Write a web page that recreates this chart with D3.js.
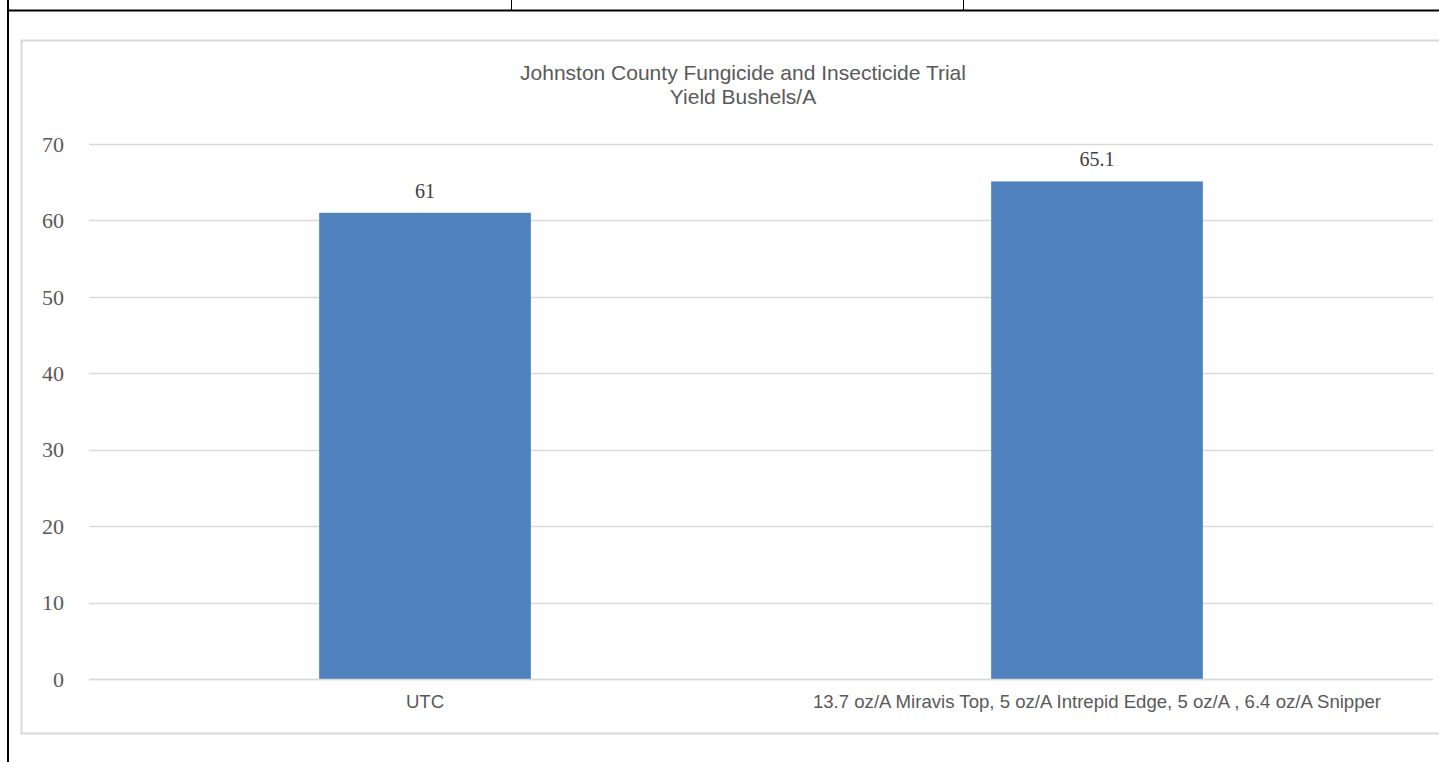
<!DOCTYPE html>
<html><head><meta charset="utf-8">
<script src="https://cdn.jsdelivr.net/npm/d3@7"></script>
<style>html,body{margin:0;padding:0;background:#fff;overflow:hidden}</style>
</head><body>
<svg id="c" width="1439" height="762"></svg>
<script>
const categories = ["UTC", "13.7 oz/A Miravis Top, 5 oz/A Intrepid Edge, 5 oz/A , 6.4 oz/A Snipper"];
const values = [61, 65.1];
const valueLabels = ["61", "65.1"];
const yTicks = [0, 10, 20, 30, 40, 50, 60, 70];
const titleLines = ["Johnston County Fungicide and Insecticide Trial", "Yield Bushels/A"];

(function () {
const svg = d3.select("#c");

// page table borders
svg.append("line").attr("x1", 8).attr("x2", 8).attr("y1", 0).attr("y2", 762).attr("stroke", "#000").attr("stroke-width", 2);
svg.append("line").attr("x1", 8).attr("x2", 1439).attr("y1", 10.5).attr("y2", 10.5).attr("stroke", "#000").attr("stroke-width", 2);
[511.5, 963.5].forEach(x => svg.append("line").attr("x1", x).attr("x2", x).attr("y1", 0).attr("y2", 10).attr("stroke", "#000").attr("stroke-width", 1));

// chart frame
svg.append("rect").attr("x", 21.5).attr("y", 40.5).attr("width", 1440).attr("height", 693)
  .attr("fill", "none").attr("stroke", "#d9d9d9").attr("stroke-width", 2);

const mLeft = 89, mRight = 1433, mTop = 144, mBottom = 679;
const x = d3.scaleBand().domain(categories).range([mLeft, mRight]).padding(0);
const y = d3.scaleLinear().domain([0, 70]).range([mBottom, mTop]);

// gridlines
svg.append("g").selectAll("line").data(yTicks).join("line")
  .attr("x1", mLeft).attr("x2", mRight)
  .attr("y1", d => Math.round(y(d)) + 0.5).attr("y2", d => Math.round(y(d)) + 0.5)
  .attr("stroke", "#d9d9d9").attr("stroke-width", 1.4);

// y tick labels
svg.append("g").selectAll("text").data(yTicks).join("text")
  .attr("x", 64).attr("y", d => y(d)).attr("dy", "0.35em")
  .attr("text-anchor", "end")
  .attr("font-family", "'Liberation Serif', 'Times New Roman', serif")
  .attr("font-size", 22).attr("fill", "#595959")
  .text(d => d);

// bars
const barW = x.bandwidth() * 0.315;
svg.append("g").selectAll("rect").data(values).join("rect")
  .attr("x", (d, i) => x(categories[i]) + x.bandwidth() / 2 - barW / 2)
  .attr("width", barW)
  .attr("y", d => y(d)).attr("height", d => y(0) - y(d))
  .attr("fill", "#4f81bd");

// redraw zero line over bars
svg.append("line").attr("x1", mLeft).attr("x2", mRight)
  .attr("y1", Math.round(y(0)) + 0.5).attr("y2", Math.round(y(0)) + 0.5)
  .attr("stroke", "#d9d9d9").attr("stroke-width", 1.4);

// value labels
svg.append("g").selectAll("text").data(values).join("text")
  .attr("x", (d, i) => x(categories[i]) + x.bandwidth() / 2)
  .attr("y", d => y(d) - 22).attr("dy", "0.35em")
  .attr("text-anchor", "middle")
  .attr("font-family", "'Liberation Serif', 'Times New Roman', serif")
  .attr("font-size", 20).attr("fill", "#404040")
  .text((d, i) => valueLabels[i]);

// x labels
svg.append("g").selectAll("text").data(categories).join("text")
  .attr("x", d => x(d) + x.bandwidth() / 2).attr("y", 708)
  .attr("text-anchor", "middle")
  .attr("font-family", "'Liberation Sans', Arial, sans-serif")
  .attr("font-size", 18.6).attr("fill", "#595959")
  .text(d => d);

// title
svg.append("g").selectAll("text").data(titleLines).join("text")
  .attr("x", 743).attr("y", (d, i) => 80 + i * 24)
  .attr("text-anchor", "middle")
  .attr("font-family", "'Liberation Sans', Arial, sans-serif")
  .attr("font-size", 21).attr("fill", "#595959")
  .text(d => d);
})();
</script>
</body></html>
